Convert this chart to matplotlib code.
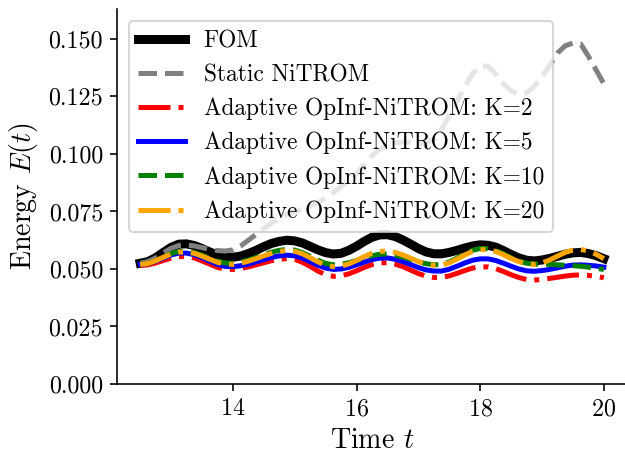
import numpy as np
from matplotlib import pyplot as plt

plt.rcParams["font.family"] = "serif"
plt.rcParams["font.serif"] = ["cmr10"]
plt.rcParams["mathtext.fontset"] = "cm"
plt.rcParams["axes.formatter.use_mathtext"] = True

# time grid (step 0.125 from 12.5 to 20)
t = np.linspace(12.5, 20.0, 61)

fom = [0.0525, 0.0532, 0.0549, 0.0572, 0.0594, 0.0608, 0.0609, 0.0602, 0.0589, 0.0574,
       0.0560, 0.0551, 0.0551, 0.0556, 0.0567, 0.0581, 0.0597, 0.0611, 0.0620, 0.0625,
       0.0622, 0.0613, 0.0598, 0.0583, 0.0571, 0.0565, 0.0568, 0.0581, 0.0599, 0.0620,
       0.0638, 0.0648, 0.0649, 0.0641, 0.0626, 0.0608, 0.0589, 0.0574, 0.0566, 0.0566,
       0.0572, 0.0581, 0.0591, 0.0600, 0.0605, 0.0603, 0.0595, 0.0580, 0.0563, 0.0548,
       0.0538, 0.0535, 0.0539, 0.0546, 0.0555, 0.0564, 0.0570, 0.0572, 0.0567, 0.0558,
       0.0545]

static = [0.0525, 0.0532, 0.0548, 0.0570, 0.0590, 0.0602, 0.0604, 0.0600, 0.0593, 0.0585,
          0.0580, 0.0578, 0.0583, 0.0600, 0.0625, 0.0650, 0.0675, 0.0700, 0.0722, 0.0738,
          0.0750, 0.0762, 0.0773, 0.0788, 0.0808, 0.0832, 0.0858, 0.0885, 0.0915, 0.0955,
          0.0993, 0.1020, 0.1036, 0.1047, 0.1052, 0.1050, 0.1046, 0.1046, 0.1065, 0.1108,
          0.1165, 0.1228, 0.1292, 0.1348, 0.1382, 0.1382, 0.1348, 0.1305, 0.1275, 0.1258,
          0.1266, 0.1294, 0.1335, 0.1385, 0.1438, 0.1470, 0.1482, 0.1478, 0.1425, 0.1365,
          0.1305]

k2 = [0.0515, 0.0518, 0.0526, 0.0537, 0.0547, 0.0554, 0.0554, 0.0548, 0.0535, 0.0521,
      0.0507, 0.0499, 0.0498, 0.0502, 0.0509, 0.0518, 0.0527, 0.0536, 0.0542, 0.0545,
      0.0542, 0.0529, 0.0511, 0.0491, 0.0475, 0.0468, 0.0470, 0.0479, 0.0492, 0.0507,
      0.0519, 0.0527, 0.0527, 0.0521, 0.0510, 0.0495, 0.0480, 0.0469, 0.0463, 0.0463,
      0.0470, 0.0481, 0.0493, 0.0504, 0.0509, 0.0509, 0.0502, 0.0489, 0.0475, 0.0463,
      0.0454, 0.0452, 0.0454, 0.0459, 0.0464, 0.0469, 0.0473, 0.0474, 0.0472, 0.0468,
      0.0462]

k5 = [0.0520, 0.0524, 0.0534, 0.0548, 0.0561, 0.0569, 0.0569, 0.0562, 0.0549, 0.0534,
      0.0520, 0.0511, 0.0510, 0.0514, 0.0521, 0.0531, 0.0541, 0.0550, 0.0557, 0.0560,
      0.0557, 0.0547, 0.0532, 0.0516, 0.0504, 0.0498, 0.0500, 0.0507, 0.0518, 0.0530,
      0.0541, 0.0547, 0.0548, 0.0542, 0.0532, 0.0519, 0.0506, 0.0496, 0.0491, 0.0491,
      0.0499, 0.0512, 0.0526, 0.0538, 0.0544, 0.0544, 0.0537, 0.0525, 0.0512, 0.0500,
      0.0492, 0.0490, 0.0493, 0.0498, 0.0505, 0.0512, 0.0517, 0.0518, 0.0516, 0.0513,
      0.0508]

k10 = [0.0520, 0.0524, 0.0536, 0.0552, 0.0567, 0.0576, 0.0577, 0.0571, 0.0560, 0.0546,
       0.0534, 0.0526, 0.0525, 0.0530, 0.0539, 0.0550, 0.0562, 0.0573, 0.0581, 0.0585,
       0.0582, 0.0571, 0.0555, 0.0538, 0.0524, 0.0518, 0.0520, 0.0527, 0.0537, 0.0548,
       0.0558, 0.0564, 0.0565, 0.0560, 0.0552, 0.0542, 0.0531, 0.0523, 0.0518, 0.0520,
       0.0530, 0.0547, 0.0565, 0.0581, 0.0589, 0.0588, 0.0580, 0.0566, 0.0549, 0.0534,
       0.0525, 0.0522, 0.0521, 0.0520, 0.0518, 0.0516, 0.0514, 0.0512, 0.0508, 0.0503,
       0.0498]

k20 = [0.0520, 0.0524, 0.0536, 0.0551, 0.0565, 0.0573, 0.0574, 0.0568, 0.0556, 0.0542,
       0.0529, 0.0521, 0.0520, 0.0525, 0.0534, 0.0545, 0.0557, 0.0568, 0.0576, 0.0580,
       0.0577, 0.0566, 0.0549, 0.0531, 0.0517, 0.0510, 0.0513, 0.0522, 0.0537, 0.0554,
       0.0568, 0.0577, 0.0577, 0.0572, 0.0561, 0.0547, 0.0532, 0.0521, 0.0516, 0.0517,
       0.0527, 0.0543, 0.0561, 0.0576, 0.0584, 0.0584, 0.0576, 0.0562, 0.0546, 0.0532,
       0.0522, 0.0520, 0.0526, 0.0539, 0.0556, 0.0572, 0.0582, 0.0585, 0.0578, 0.0564,
       0.0545]

fig = plt.figure(figsize=(625 / 144, 457 / 144), dpi=144)
ax = fig.add_axes([117 / 625, 73 / 457, 510 / 625, 375 / 457])

ax.plot(t, fom, color="black", lw=4.5, label="FOM")
ax.plot(t, static, color="gray", ls="--", lw=2.5, label="Static NiTROM")
ax.plot(t, k2, color="red", ls="-.", lw=2.5, label="Adaptive OpInf-NiTROM: K=2")
ax.plot(t, k5, color="blue", ls="-", lw=2.5, label="Adaptive OpInf-NiTROM: K=5")
ax.plot(t, k10, color="green", ls="--", lw=2.5, label="Adaptive OpInf-NiTROM: K=10")
ax.plot(t, k20, color="orange", ls="-.", lw=2.5, label="Adaptive OpInf-NiTROM: K=20")

ax.set_xlim(12.125, 20.375)
ax.set_ylim(0, 0.163)
ax.set_xticks([14, 16, 18, 20])
ax.set_yticks([0.0, 0.025, 0.05, 0.075, 0.1, 0.125, 0.15])
ax.yaxis.set_major_formatter(plt.FormatStrFormatter("%.3f"))
ax.tick_params(labelsize=12)
ax.spines["top"].set_visible(False)
ax.spines["right"].set_visible(False)
ax.set_xlabel("Time $t$", fontsize=14)
ax.set_ylabel("Energy $E(t)$", fontsize=14)
ax.legend(loc="upper left", fontsize=11.7)

fig.savefig("out.png", dpi=144)
